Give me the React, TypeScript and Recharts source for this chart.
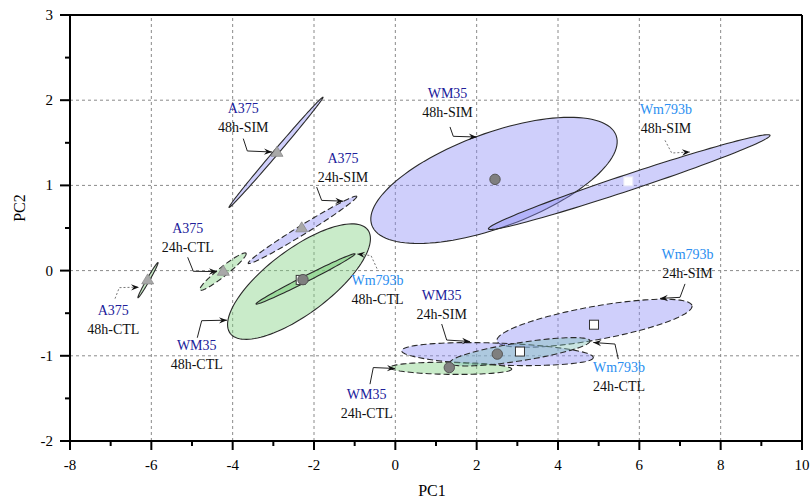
import React from "react";
import { ScatterChart, Scatter, XAxis, YAxis, ReferenceLine } from "recharts";

const FONT = '"Liberation Serif", "Times New Roman", serif';

// axes
const xTicks = [-8, -7, -6, -5, -4, -3, -2, -1, 0, 1, 2, 3, 4, 5, 6, 7, 8, 9, 10];
const yTicks = [-2, -1.5, -1, -0.5, 0, 0.5, 1, 1.5, 2, 2.5, 3];
const xGrid = [-6, -4, -2, 0, 2, 4, 6, 8];
const yGrid = [-1, 0, 1, 2];

// confidence ellipses: centre, end of major axis, end of minor axis (PC1, PC2)
const ellipseNames = [
  "WM35 48h-SIM",
  "Wm793b 48h-SIM",
  "WM35 48h-CTL",
  "Wm793b 48h-CTL",
  "A375 48h-SIM",
  "A375 24h-SIM",
  "A375 24h-CTL",
  "A375 48h-CTL",
  "Wm793b 24h-SIM",
  "WM35 24h-SIM",
  "WM35 24h-CTL",
  "Wm793b 24h-CTL",
];
const ellipseCenters = [
  [2.426, 1.059], [5.751, 1.039], [-2.369, -0.129], [-2.209, -0.098],
  [-2.934, 1.388], [-2.283, 0.478], [-4.238, -0.012], [-6.082, -0.112],
  [4.897, -0.618], [2.512, -0.98], [1.364, -1.147], [3.065, -0.953],
];
const ellipseMajorEnds = [
  [5.429, 1.587], [9.213, 1.588], [-0.677, 0.478], [-0.992, 0.196],
  [-1.779, 2.035], [-0.95, 0.871], [-3.672, 0.204], [-5.836, 0.094],
  [7.295, -0.412], [4.868, -1.02], [2.861, -1.156], [4.787, -0.824],
];
const ellipseMinorEnds = [
  [2.825, 0.54], [5.812, 0.949], [-1.897, -0.431], [-2.175, -0.129],
  [-2.888, 1.369], [-2.224, 0.433], [-4.169, -0.053], [-6.05, -0.12],
  [4.971, -0.811], [2.502, -1.109], [1.362, -1.218], [3.1, -1.058],
];

// group means
const wm35Means = [
  { cond: "48h-SIM", x: 2.451, y: 1.071 },
  { cond: "48h-CTL", x: -2.271, y: -0.106 },
  { cond: "24h-SIM", x: 2.507, y: -0.98 },
  { cond: "24h-CTL", x: 1.327, y: -1.138 },
];
const wm793bMeans = [
  { cond: "48h-SIM", x: 5.729, y: 1.047 },
  { cond: "48h-CTL", x: -2.327, y: -0.109 },
  { cond: "24h-SIM", x: 4.885, y: -0.635 },
  { cond: "24h-CTL", x: 3.065, y: -0.95 },
];
const a375Means = [
  { cond: "48h-SIM", x: -2.91, y: 1.388 },
  { cond: "24h-SIM", x: -2.302, y: 0.502 },
  { cond: "24h-CTL", x: -4.23, y: -0.008 },
  { cond: "48h-CTL", x: -6.09, y: -0.109 },
];

// annotations
const labelPoints = [
  { cell: "A375", cond: "48h-SIM", x: -3.739, y: 1.794 },
  { cell: "A375", cond: "24h-SIM", x: -1.287, y: 1.206 },
  { cell: "A375", cond: "24h-CTL", x: -5.106, y: 0.386 },
  { cell: "A375", cond: "48h-CTL", x: -6.935, y: -0.579 },
  { cell: "WM35", cond: "48h-CTL", x: -4.884, y: -0.985 },
  { cell: "Wm793b", cond: "48h-CTL", x: -0.439, y: -0.232 },
  { cell: "WM35", cond: "48h-SIM", x: 1.283, y: 1.971 },
  { cell: "Wm793b", cond: "48h-SIM", x: 6.655, y: 1.782 },
  { cell: "Wm793b", cond: "24h-SIM", x: 7.184, y: 0.079 },
  { cell: "WM35", cond: "24h-SIM", x: 1.14, y: -0.406 },
  { cell: "Wm793b", cond: "24h-CTL", x: 5.5, y: -1.251 },
  { cell: "WM35", cond: "24h-CTL", x: -0.704, y: -1.565 },
];
const leaderPaths = [
  [[-3.739, 1.549], [-3.64, 1.404], [-3.033, 1.392]],
  [[-1.934, 0.98], [-1.811, 0.824], [-1.28, 0.815]],
  [[-5.106, 0.156], [-4.968, -0.008], [-4.385, -0.012]],
  [[-6.893, -0.329], [-6.788, -0.2], [-6.303, -0.194]],
  [[-4.87, -0.788], [-4.762, -0.588], [-4.139, -0.582]],
  [[-0.451, 0.024], [-0.598, 0.176], [-0.943, 0.196]],
  [[1.344, 1.686], [1.425, 1.576], [2.001, 1.568]],
  [[6.631, 1.529], [6.796, 1.38], [7.246, 1.392]],
  [[7.123, -0.156], [7.0, -0.314], [6.508, -0.326]],
  [[1.14, -0.627], [1.263, -0.815], [1.836, -0.832]],
  [[5.483, -1.039], [5.401, -0.862], [4.868, -0.844]],
  [[-0.623, -1.333], [-0.542, -1.138], [-0.008, -1.149]],
];
const dottedLeaders = [3, 5, 7];

const cellColor: Record<string, string> = {
  A375: "#20209a",
  WM35: "#20209a",
  Wm793b: "#2a8ef0",
};

const LAVENDER = "#8c8cf5";
const GREEN = "#7fcf7f";

function ellipseStyle(name: string) {
  let fill = name.includes("SIM") ? LAVENDER : GREEN;
  let opacity = 0.42;
  if (name === "Wm793b 24h-CTL") fill = "#7fc0b8";
  if (name === "Wm793b 48h-CTL") opacity = 0.6;
  const dashed = name.includes("24h");
  return { fill, opacity, dashed };
}

function ellipsePath(points: { x: number; y: number }[]) {
  const [c, a, b] = points;
  const ux = a.x - c.x;
  const uy = a.y - c.y;
  const vx = b.x - c.x;
  const vy = b.y - c.y;
  let d = "";
  const n = 120;
  for (let i = 0; i <= n; i++) {
    const t = (i / n) * Math.PI * 2;
    const px = c.x + Math.cos(t) * ux + Math.sin(t) * vx;
    const py = c.y + Math.cos(t) * uy + Math.sin(t) * vy;
    d += (i === 0 ? "M" : "L") + px.toFixed(2) + "," + py.toFixed(2);
  }
  return d + "Z";
}

const makeEllipse = (name: string) => (props: any) => {
  const st = ellipseStyle(name);
  return (
    <path
      d={ellipsePath(props.points)}
      fill={st.fill}
      fillOpacity={st.opacity}
      stroke="#2a2a2a"
      strokeWidth={1.1}
      strokeDasharray={st.dashed ? "6 3" : undefined}
    />
  );
};

const makeLeader = (dotted: boolean) => (props: any) => {
  const pts = props.points as { x: number; y: number }[];
  const d = pts.map((p, i) => (i ? "L" : "M") + p.x + "," + p.y).join("");
  const p1 = pts[pts.length - 2];
  const p2 = pts[pts.length - 1];
  const ang = Math.atan2(p2.y - p1.y, p2.x - p1.x);
  const cs = Math.cos(ang);
  const sn = Math.sin(ang);
  const L = 8;
  const W = 3.2;
  const bx = p2.x - L * cs;
  const by = p2.y - L * sn;
  const nx = p2.x - L * 0.65 * cs;
  const ny = p2.y - L * 0.65 * sn;
  const head =
    `M${p2.x},${p2.y}L${bx - W * sn},${by + W * cs}` +
    `L${nx},${ny}L${bx + W * sn},${by - W * cs}Z`;
  return (
    <g>
      <path
        d={d}
        fill="none"
        stroke={dotted ? "#555" : "#222"}
        strokeWidth={dotted ? 0.8 : 1}
        strokeDasharray={dotted ? "2 2" : undefined}
      />
      <path d={head} fill="#111" />
    </g>
  );
};

const Hidden = () => <g />;

const CircleMark = ({ cx, cy }: any) => (
  <circle cx={cx} cy={cy} r={5.2} fill="#7f7f7f" stroke="#555" strokeWidth={1} />
);
const SquareMark = ({ cx, cy, payload }: any) => (
  <rect
    x={cx - 4.5}
    y={cy - 4.5}
    width={9}
    height={9}
    fill="#fff"
    stroke={payload.cond === "48h-SIM" ? "#e8e8f8" : "#333"}
    strokeWidth={1}
  />
);
const TriangleMark = ({ cx, cy }: any) => (
  <path
    d={`M${cx},${cy - 6}L${cx + 6},${cy + 4}L${cx - 6},${cy + 4}Z`}
    fill="#a8a8a8"
    stroke="#8c8c8c"
    strokeWidth={0.8}
  />
);

const LabelMark = ({ cx, cy, payload }: any) => (
  <g fontFamily={FONT} fontSize={14} textAnchor="middle">
    <text x={cx} y={cy - 9.5} dominantBaseline="central" fill={cellColor[payload.cell]}>
      {payload.cell}
    </text>
    <text x={cx} y={cy + 9.5} dominantBaseline="central" fill="#111">
      {payload.cond}
    </text>
  </g>
);

const XTick = ({ x, y, payload }: any) => {
  const v = payload.value;
  const major = v % 2 === 0;
  return (
    <g>
      <line x1={x} x2={x} y1={y} y2={y + (major ? 9 : 5)} stroke="#000" strokeWidth={2} />
      {major && (
        <text
          x={x}
          y={y + 24}
          textAnchor="middle"
          dominantBaseline="central"
          fontFamily={FONT}
          fontSize={15}
          fill="#000"
        >
          {v}
        </text>
      )}
    </g>
  );
};

const YTick = ({ x, y, payload }: any) => {
  const v = payload.value;
  const major = Number.isInteger(v);
  return (
    <g>
      <line x1={x - (major ? 10 : 5)} x2={x} y1={y} y2={y} stroke="#000" strokeWidth={2} />
      {major && (
        <text
          x={x - 17}
          y={y}
          textAnchor="end"
          dominantBaseline="central"
          fontFamily={FONT}
          fontSize={15}
          fill="#000"
        >
          {v}
        </text>
      )}
    </g>
  );
};

export default function App() {
  return (
    <div style={{ position: "absolute", left: 0, top: 0, background: "#fff" }}>
      <ScatterChart
        width={811}
        height={502}
        margin={{ top: 15, right: 9, left: 0, bottom: 0 }}
      >
        <XAxis
          type="number"
          dataKey="x"
          domain={[-8, 10]}
          ticks={xTicks}
          interval={0}
          allowDataOverflow
          height={61}
          tickSize={0}
          tickMargin={0}
          tickLine={false}
          tick={<XTick />}
          axisLine={{ stroke: "#000", strokeWidth: 2 }}
          label={{
            content: ({ viewBox }: any) => (
              <text
                x={viewBox.x + viewBox.width / 2 - 4}
                y={viewBox.y + 49}
                textAnchor="middle"
                dominantBaseline="central"
                fontFamily={FONT}
                fontSize={16}
                fill="#000"
              >
                PC1
              </text>
            ),
          }}
        />
        <YAxis
          type="number"
          dataKey="y"
          domain={[-2, 3]}
          ticks={yTicks}
          interval={0}
          allowDataOverflow
          width={70}
          tickSize={0}
          tickMargin={0}
          tickLine={false}
          tick={<YTick />}
          axisLine={{ stroke: "#000", strokeWidth: 2 }}
          label={{
            content: ({ viewBox }: any) => {
              const lx = viewBox.x + 19;
              const ly = viewBox.y + viewBox.height / 2 - 20;
              return (
                <text
                  x={lx}
                  y={ly}
                  transform={`rotate(-90 ${lx} ${ly})`}
                  textAnchor="middle"
                  dominantBaseline="central"
                  fontFamily={FONT}
                  fontSize={16}
                  fill="#000"
                >
                  PC2
                </text>
              );
            },
          }}
        />
        {xGrid.map((v) => (
          <ReferenceLine key={"gx" + v} x={v} stroke="#8a8a8a" strokeDasharray="3 3" />
        ))}
        {yGrid.map((v) => (
          <ReferenceLine key={"gy" + v} y={v} stroke="#8a8a8a" strokeDasharray="3 3" />
        ))}
        <ReferenceLine y={3} stroke="#000" strokeWidth={2} />
        <ReferenceLine x={10} stroke="#000" strokeWidth={2} />

        {ellipseNames.map((name, i) => (
          <Scatter
            key={name}
            name={name}
            data={[
              { x: ellipseCenters[i][0], y: ellipseCenters[i][1] },
              { x: ellipseMajorEnds[i][0], y: ellipseMajorEnds[i][1] },
              { x: ellipseMinorEnds[i][0], y: ellipseMinorEnds[i][1] },
            ]}
            line={makeEllipse(name)}
            lineType="joint"
            shape={Hidden}
            isAnimationActive={false}
          />
        ))}

        {leaderPaths.map((path, i) => (
          <Scatter
            key={"leader" + i}
            data={path.map(([x, y]) => ({ x, y }))}
            line={makeLeader(dottedLeaders.includes(i))}
            lineType="joint"
            shape={Hidden}
            isAnimationActive={false}
          />
        ))}

        <Scatter name="A375" data={a375Means} shape={TriangleMark} isAnimationActive={false} />
        <Scatter name="Wm793b" data={wm793bMeans} shape={SquareMark} isAnimationActive={false} />
        <Scatter name="WM35" data={wm35Means} shape={CircleMark} isAnimationActive={false} />
        <Scatter name="labels" data={labelPoints} shape={LabelMark} isAnimationActive={false} />
      </ScatterChart>
    </div>
  );
}
